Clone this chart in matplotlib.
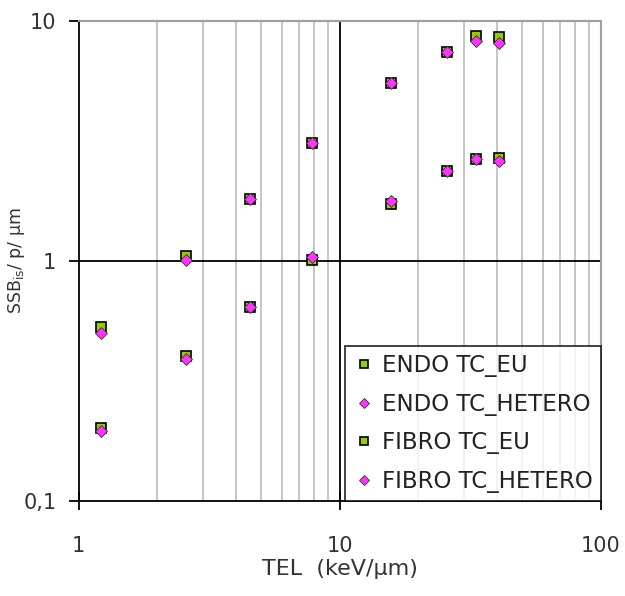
import matplotlib
matplotlib.use("Agg")
import matplotlib.pyplot as plt
from matplotlib.ticker import FixedLocator, NullFormatter, NullLocator

# data
tel = [1.22, 2.58, 4.53, 7.85, 15.8, 25.9, 33.2, 41.0]
endo_eu = [0.53, 1.05, 1.81, 3.09, 5.5, 7.4, 8.6, 8.55]
endo_hetero = [0.50, 1.01, 1.81, 3.09, 5.5, 7.4, 8.2, 8.07]
fibro_eu = [0.201, 0.402, 0.645, 1.01, 1.73, 2.36, 2.65, 2.68]
fibro_hetero = [0.196, 0.389, 0.645, 1.04, 1.78, 2.36, 2.65, 2.61]

x_ticks = [1, 10, 100]
x_tick_labels = ["1", "10", "100"]
y_ticks = [0.1, 1, 10]
y_tick_labels = ["0,1", "1", "10"]

green = "#99cc00"
magenta = "#ff33ff"

fig = plt.figure(figsize=(6.25, 5.96), dpi=100)
ax = fig.add_axes([0.1256, 0.1594, 0.8352, 0.8062])

ax.set_xscale("log")
ax.set_yscale("log")
ax.set_xlim(1, 100)
ax.set_ylim(0.1, 10)

# minor vertical grid lines (gray), major lines black
minor_x = [m * d for d in (1, 10) for m in range(2, 10)]
for v in minor_x:
    ax.axvline(v, color="#c0c0c0", lw=1.3, zorder=0)
ax.axvline(10, color="black", lw=1.3, zorder=1)
ax.axhline(1, color="black", lw=1.3, zorder=1)

sq = dict(marker="s", ms=7.5, mfc=green, mec="black", mew=1.2, ls="none")
di = dict(marker="D", ms=6.5, mfc=magenta, mec="#333333", mew=0.6, ls="none")

ax.plot(tel, endo_eu, label="ENDO TC_EU", zorder=3, **sq)
ax.plot(tel, endo_hetero, label="ENDO TC_HETERO", zorder=4, **di)
ax.plot(tel, fibro_eu, label="FIBRO TC_EU", zorder=3, **sq)
ax.plot(tel, fibro_hetero, label="FIBRO TC_HETERO", zorder=4, **di)

ax.xaxis.set_major_locator(FixedLocator(x_ticks))
ax.xaxis.set_minor_locator(NullLocator())
ax.xaxis.set_minor_formatter(NullFormatter())
ax.set_xticklabels(x_tick_labels)
ax.yaxis.set_major_locator(FixedLocator(y_ticks))
ax.yaxis.set_minor_locator(NullLocator())
ax.yaxis.set_minor_formatter(NullFormatter())
ax.set_yticklabels(y_tick_labels)

ax.tick_params(axis="x", direction="inout", length=13, width=1.3,
               labelsize=15, pad=19, colors="black", labelcolor="#333333")
ax.tick_params(axis="y", direction="out", length=7, width=1.3,
               labelsize=15, pad=9, labelcolor="#333333")

for s in ("left", "bottom"):
    ax.spines[s].set_color("black")
    ax.spines[s].set_linewidth(1.3)
for s in ("top", "right"):
    ax.spines[s].set_color("#a0a0a0")
    ax.spines[s].set_linewidth(1.5)

ax.set_xlabel("TEL  (keV/µm)", fontsize=16, color="#333333", labelpad=2)
ax.set_ylabel(r"SSB$_{\mathregular{is}}$/ p/ µm", fontsize=12.5, color="#333333")
ax.yaxis.set_label_coords(-0.098, 0.5)

leg = ax.legend(loc="lower right", borderaxespad=0, fontsize=16.5, frameon=True,
                fancybox=False, edgecolor="black", handletextpad=0.3,
                handlelength=0.95, labelspacing=0.68, borderpad=0.35,
                markerscale=0.8)
leg.get_frame().set_linewidth(1.3)
for t in leg.get_texts():
    t.set_color("#222222")
leg.set_zorder(5)

fig.savefig("out.png", dpi=100)
